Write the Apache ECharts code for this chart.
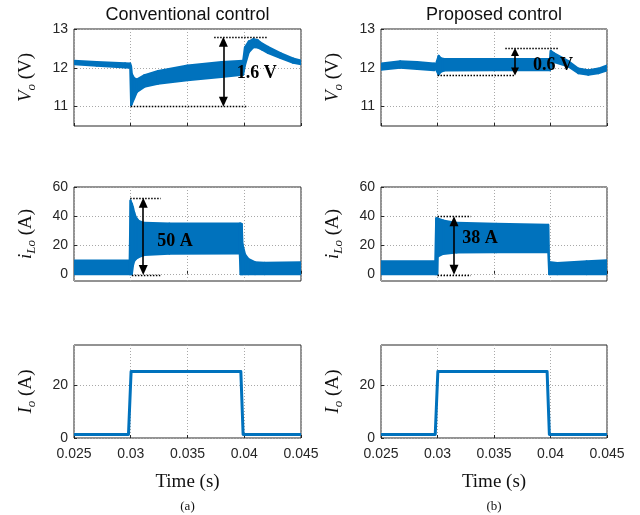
<!DOCTYPE html>
<html>
<head>
<meta charset="utf-8">
<script src="https://cdn.jsdelivr.net/npm/echarts@6/dist/echarts.min.js"></script>
<style>
html, body { margin: 0; padding: 0; background: #fff; }
#chart { width: 640px; height: 515px; }
</style>
</head>
<body>
<div id="chart"></div>
<script>
// time axis (s)
var timeTicks = [0.025, 0.03, 0.035, 0.04, 0.045];
var voTicks = [11, 12, 13];
var ilTicks = [0, 20, 40, 60];
var ioTicks = [0, 20];

// Vo, conventional control: upper / lower edge of the ripple band
var voConvT  = [0.025, 0.027, 0.0295, 0.02995, 0.03003, 0.0301, 0.0303, 0.03055, 0.0312, 0.0324, 0.035, 0.038, 0.0399, 0.04006, 0.0404, 0.0408, 0.0412, 0.0416, 0.0421, 0.0432, 0.0443, 0.045];
var voConvHi = [12.18, 12.15, 12.12, 12.11, 12.04, 11.84, 11.73, 11.70, 11.81, 11.92, 12.06, 12.15, 12.18, 12.53, 12.68, 12.74, 12.71, 12.62, 12.54, 12.38, 12.24, 12.19];
var voConvLo = [12.09, 12.05, 12.01, 12.00, 11.03, 11.07, 11.21, 11.38, 11.51, 11.59, 11.68, 11.76, 11.82, 12.06, 12.40, 12.53, 12.52, 12.46, 12.38, 12.25, 12.13, 12.09];

// Vo, proposed control
var voPropT  = [0.025, 0.0267, 0.0282, 0.0297, 0.02985, 0.0301, 0.0303, 0.0306, 0.035, 0.03995, 0.04002, 0.0403, 0.0416, 0.04246, 0.04335, 0.04423, 0.045];
var voPropHi = [12.11, 12.17, 12.15, 12.11, 12.09, 12.31, 12.25, 12.23, 12.23, 12.23, 12.44, 12.38, 12.17, 11.98, 11.94, 11.98, 12.06];
var voPropLo = [11.95, 12.00, 11.97, 11.94, 11.97, 11.82, 11.90, 11.93, 11.94, 11.94, 11.97, 12.15, 12.03, 11.86, 11.82, 11.86, 11.93];

// iLo, conventional control
var ilConvT  = [0.025, 0.0299, 0.02998, 0.0301, 0.0302, 0.0303, 0.03045, 0.0307, 0.0312, 0.0334, 0.0396, 0.03968, 0.03978, 0.03985, 0.04007, 0.04036, 0.04095, 0.0418, 0.045];
var ilConvHi = [9.2, 9.2, 50.6, 48.5, 46, 42.6, 39.1, 36.6, 35.2, 34.8, 34.7, 34.7, 34.5, 20.5, 13.5, 10.3, 8.0, 7.7, 8.0];
var ilConvLo = [-0.3, -0.3, -0.3, -0.3, 5.7, 8.7, 10.2, 11.5, 13.0, 13.8, 14.1, -0.3, -0.3, -0.3, -0.3, -0.3, -0.3, -0.3, -0.3];

// iLo, proposed control
var ilPropT  = [0.025, 0.0298, 0.02988, 0.02998, 0.03002, 0.0305, 0.0317, 0.0352, 0.0398, 0.03988, 0.0406, 0.0432, 0.045];
var ilPropHi = [8.7, 8.7, 38.4, 38.4, 38.2, 36.8, 35.2, 34.6, 33.9, 8.2, 7.5, 8.6, 9.3];
var ilPropLo = [-0.3, -0.3, -0.3, -0.3, 11.9, 13.7, 14.7, 14.9, 14.9, -0.3, -0.3, -0.3, -0.3];

// Io (load step), same for both
var ioT = [0.025, 0.0298, 0.03003, 0.0397, 0.0399, 0.045];
var ioA = [1.3, 1.3, 25, 25, 1.3, 1.3];

// annotations: dotted guides [t0, t1, y], arrow [t, yTop, yBottom], label [t, y, text]
var voConvDots = [[0.03735, 0.042, 12.8], [0.03, 0.0403, 11.0]];
var voConvArrow = [0.03816, 12.672, 11.128];
var voConvText = [0.0411, 11.87, '1.6 V'];
var voPropDots = [[0.036, 0.0407, 12.51], [0.03, 0.03686, 11.8]];
var voPropArrow = [0.03686, 12.407, 11.903];
var voPropText = [0.04022, 12.06, '0.6 V'];
var ilConvDots = [[0.02995, 0.03264, 52.5], [0.0301, 0.0326, -0.8]];
var ilConvArrow = [0.0311, 49.1, 2.6];
var ilConvText = [0.0339, 22.7, '50 A'];
var ilPropDots = [[0.03, 0.03295, 39.8], [0.03, 0.03295, -0.7]];
var ilPropArrow = [0.03146, 36.4, 2.7];
var ilPropText = [0.03376, 24.3, '38 A'];

var blue = '#0072bd';
var ink = '#262626';
var sans = 'Liberation Sans, Arial, Helvetica, sans-serif';
var serif = 'Liberation Serif, Times New Roman, serif';

var grids = [
    { left: 74, top: 29, width: 227, height: 97 },
    { left: 381, top: 29, width: 226, height: 97 },
    { left: 74, top: 187, width: 227, height: 94 },
    { left: 381, top: 187, width: 226, height: 94 },
    { left: 74, top: 345, width: 227, height: 93 },
    { left: 381, top: 345, width: 226, height: 93 }
].map(function (g) {
    g.show = true;
    g.borderColor = ink;
    g.borderWidth = 1;
    g.backgroundColor = 'transparent';
    return g;
});

var gridLine = { show: true, lineStyle: { color: '#a8a8a8', width: 1, type: [1, 2] } };

function xAxis(i, labels) {
    var ax = {
        gridIndex: i, type: 'value', min: 0.025, max: 0.045, interval: 0.005,
        axisLine: { show: false },
        axisTick: { show: true, inside: true, length: 3, customValues: timeTicks, lineStyle: { color: ink } },
        axisLabel: { show: labels, customValues: timeTicks, margin: 9, color: ink, fontFamily: sans, fontSize: 14 },
        splitLine: gridLine
    };
    if (labels) {
        ax.name = 'Time (s)';
        ax.nameLocation = 'middle';
        ax.nameGap = 35;
        ax.nameTextStyle = { fontFamily: serif, fontSize: 19, color: '#111' };
    }
    return ax;
}

var nameRich = {
    i: { fontFamily: serif, fontStyle: 'italic', fontSize: 19, color: '#111', lineHeight: 24, verticalAlign: 'middle' },
    s: { fontFamily: serif, fontStyle: 'italic', fontSize: 13, color: '#111', lineHeight: 13, verticalAlign: 'bottom' },
    r: { fontFamily: serif, fontSize: 19, color: '#111', lineHeight: 24, verticalAlign: 'middle' }
};

function yAxis(i, min, max, ticks, name) {
    return {
        gridIndex: i, type: 'value', min: min, max: max,
        axisLine: { show: false },
        axisTick: { show: true, inside: true, length: 3, customValues: ticks, lineStyle: { color: ink } },
        axisLabel: { customValues: ticks, margin: 6, color: ink, fontFamily: sans, fontSize: 14 },
        splitLine: gridLine,
        name: name, nameLocation: 'middle', nameRotate: 90, nameGap: 36,
        nameTextStyle: { rich: nameRich }
    };
}

// ripple band: one filled quad per pair of neighbouring samples, placed with api.coord
function band(i, t, hi, lo) {
    var segs = [];
    for (var k = 0; k < t.length - 1; k++) {
        segs.push([t[k], lo[k], hi[k], t[k + 1], lo[k + 1], hi[k + 1]]);
    }
    return {
        type: 'custom', xAxisIndex: i, yAxisIndex: i, silent: true, clip: true, z: 2,
        encode: { x: [0, 3], y: [1, 2, 4, 5] },
        data: segs,
        renderItem: function (params, api) {
            var p = [
                api.coord([api.value(0), api.value(2)]),
                api.coord([api.value(3), api.value(5)]),
                api.coord([api.value(3), api.value(4)]),
                api.coord([api.value(0), api.value(1)])
            ];
            return {
                type: 'polygon',
                shape: { points: p },
                style: { fill: blue, stroke: blue, lineWidth: 2, lineJoin: 'round' }
            };
        }
    };
}

function trace(i, t, v) {
    return {
        type: 'line', xAxisIndex: i, yAxisIndex: i, symbol: 'none',
        lineStyle: { color: blue, width: 3, join: 'round' },
        data: t.map(function (x, k) { return [x, v[k]]; })
    };
}

function notes(i, dots, arrow, text, head) {
    return [{
        type: 'line', xAxisIndex: i, yAxisIndex: i, data: [], z: 5,
        markLine: {
            silent: true, symbol: 'none', label: { show: false },
            lineStyle: { color: '#000', width: 1.4, type: [1.5, 1.5] },
            data: dots.map(function (d) { return [{ coord: [d[0], d[2]] }, { coord: [d[1], d[2]] }]; })
        }
    }, {
        type: 'line', xAxisIndex: i, yAxisIndex: i, data: [], z: 6,
        markLine: {
            silent: true, symbol: ['triangle', 'triangle'], symbolSize: head, label: { show: false },
            lineStyle: { color: '#000', width: 1.6, type: 'solid' },
            itemStyle: { color: '#000' },
            data: [[{ coord: [arrow[0], arrow[1]] }, { coord: [arrow[0], arrow[2]] }]]
        },
        markPoint: {
            silent: true, symbol: 'circle', symbolSize: 0,
            label: { show: true, position: 'inside', color: '#000', fontFamily: serif, fontWeight: 'bold', fontSize: 18 },
            data: [{ coord: [text[0], text[1]], value: text[2] }]
        }
    }];
}

var series = [
    band(0, voConvT, voConvHi, voConvLo),
    band(1, voPropT, voPropHi, voPropLo),
    band(2, ilConvT, ilConvHi, ilConvLo),
    band(3, ilPropT, ilPropHi, ilPropLo),
    trace(4, ioT, ioA),
    trace(5, ioT, ioA)
]
    .concat(notes(0, voConvDots, voConvArrow, voConvText, [9, 10]))
    .concat(notes(1, voPropDots, voPropArrow, voPropText, [8, 8]))
    .concat(notes(2, ilConvDots, ilConvArrow, ilConvText, [9, 10]))
    .concat(notes(3, ilPropDots, ilPropArrow, ilPropText, [9, 10]));

var chart = echarts.init(document.getElementById('chart'), null, { renderer: 'canvas' });
chart.setOption({
    animation: false,
    backgroundColor: '#fff',
    title: [
        { text: 'Conventional control', left: 187.5, top: 6, padding: 0, textAlign: 'center', textStyle: { fontFamily: sans, fontSize: 18, fontWeight: 'normal', color: '#111' } },
        { text: 'Proposed control', left: 494, top: 6, padding: 0, textAlign: 'center', textStyle: { fontFamily: sans, fontSize: 18, fontWeight: 'normal', color: '#111' } },
        { text: '(a)', left: 187.5, top: 500, padding: 0, textAlign: 'center', textStyle: { fontFamily: serif, fontSize: 13, fontWeight: 'normal', color: '#111' } },
        { text: '(b)', left: 494, top: 500, padding: 0, textAlign: 'center', textStyle: { fontFamily: serif, fontSize: 13, fontWeight: 'normal', color: '#111' } }
    ],
    grid: grids,
    xAxis: [xAxis(0, false), xAxis(1, false), xAxis(2, false), xAxis(3, false), xAxis(4, true), xAxis(5, true)],
    yAxis: [
        yAxis(0, 10.5, 13, voTicks, '{i|V}{s|o}{r| (V)}'),
        yAxis(1, 10.5, 13, voTicks, '{i|V}{s|o}{r| (V)}'),
        yAxis(2, -5, 60, ilTicks, '{i|i}{s|Lo}{r| (A)}'),
        yAxis(3, -5, 60, ilTicks, '{i|i}{s|Lo}{r| (A)}'),
        yAxis(4, 0, 35, ioTicks, '{i|I}{s|o}{r| (A)}'),
        yAxis(5, 0, 35, ioTicks, '{i|I}{s|o}{r| (A)}')
    ],
    series: series
});
</script>
</body>
</html>
